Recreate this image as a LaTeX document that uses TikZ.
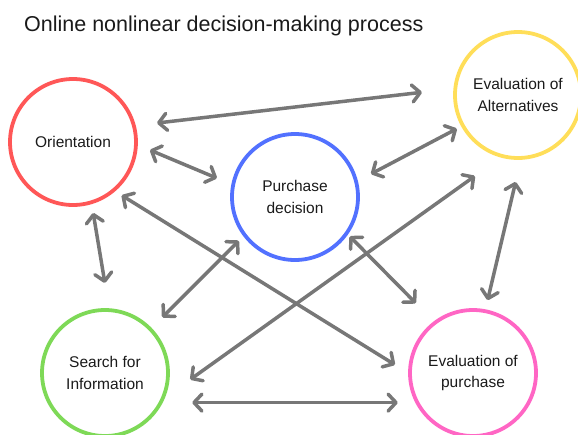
\documentclass[tikz,border=0pt]{standalone}
\usepackage{fontspec}
\setmainfont{Liberation Sans}
\usetikzlibrary{arrows.meta}

\definecolor{ringred}{HTML}{FF5757}
\definecolor{ringblue}{HTML}{5271FF}
\definecolor{ringyellow}{HTML}{FFDE59}
\definecolor{ringgreen}{HTML}{7ED957}
\definecolor{ringpink}{HTML}{FF66C4}
\definecolor{linkgray}{HTML}{777777}
\definecolor{inktext}{HTML}{1A1A1A}

\tikzset{
  stage/.style={circle, draw, line width=3.8pt, minimum size=126pt,
    inner sep=0pt, outer sep=0pt, align=center, text=inktext,
    font=\fontsize{15.5}{21.5}\selectfont},
  barb/.tip={Straight Barb[length=8pt,width=17pt,round]},
  link/.style={draw=linkgray, line width=3.5pt, barb-barb},
}

\begin{document}
\begin{tikzpicture}[x=1pt, y=-1pt]
  \useasboundingbox (0,0) rectangle (578,434);
  \clip (0,0) rectangle (578,434);

  % heading
  \node[anchor=base west, text=inktext, inner sep=0pt,
        font=\fontsize{21.5}{26}\selectfont] (title) at (24,31)
        {Online nonlinear decision-making process};

  % stages of the process
  \node[stage, draw=ringred]    (o) at (73,142)  {Orientation};
  \node[stage, draw=ringblue]   (p) at (295,197) {Purchase\\decision};
  \node[stage, draw=ringyellow] (a) at (518,95)  {Evaluation of\\Alternatives};
  \node[stage, draw=ringgreen]  (s) at (105,373) {Search for\\Information};
  \node[stage, draw=ringpink]   (e) at (473,373) {Evaluation of\\purchase};

  % two-way links between the stages
  \draw[link, shorten <=23.3pt, shorten >=33.6pt] (o.15)    -- (a.174);
  \draw[link, shorten <=15.2pt, shorten >=17.6pt] (o.-2)    -- (p.169);
  \draw[link, shorten <=16.8pt, shorten >=6.8pt]  (p.14)    -- (a.209);
  \draw[link, shorten <=10.8pt, shorten >=27.6pt] (o.-73)   -- (s.86);
  \draw[link, shorten <=9.6pt,  shorten >=17.7pt] (o.-50)   -- (e.181);
  \draw[link, shorten <=8.3pt,  shorten >=16.9pt] (p.217)   -- (s.44);
  \draw[link, shorten <=4.5pt,  shorten >=27.4pt] (p.-35)   -- (e.127);
  \draw[link, shorten <=34.2pt, shorten >=34.6pt] (a.256)   -- (s.-25.5);
  \draw[link, shorten <=24.7pt, shorten >=11.3pt] (a.-87.5) -- (e.79.6);
  \draw[link, shorten <=31.6pt, shorten >=19.6pt] (s.-28.4) -- (e.208.4);
\end{tikzpicture}
\end{document}
